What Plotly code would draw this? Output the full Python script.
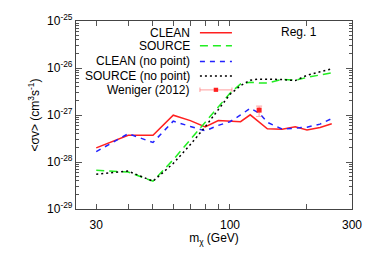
import plotly.graph_objects as go

mass = [30, 40, 50, 60, 70, 80, 90, 100, 110, 120, 130, 140, 160, 180, 200, 225, 250]
clean = [2.0e-28, 3.7e-28, 3.7e-28, 9.9e-28, 7.6e-28, 5.6e-28, 7.6e-28, 7.3e-28, 7.2e-28,
         1.01e-27, 7.2e-28, 5.1e-28, 5.0e-28, 5.6e-28, 4.8e-28, 5.4e-28, 6.5e-28]
source = [6.7e-29, 6.1e-29, 3.9e-29, 1.12e-28, 3.0e-28, 7.0e-28, 1.48e-27, 2.9e-27, 4.6e-27,
          5.0e-27, 4.8e-27, 4.8e-27, 5.7e-27, 5.5e-27, 6.3e-27, 7.2e-27, 7.9e-27]
clean_np = [1.66e-28, 4.0e-28, 2.6e-28, 7.4e-28, 5.7e-28, 4.6e-28, 6.0e-28, 7.2e-28, 1.0e-27,
            1.39e-27, 1.1e-27, 7.0e-28, 5.0e-28, 5.3e-28, 5.5e-28, 6.4e-28, 8.4e-28]
source_np = [5.5e-29, 6.4e-29, 3.9e-29, 9.3e-29, 2.35e-28, 5.6e-28, 1.3e-27, 2.75e-27, 4.2e-27,
             5.5e-27, 5.8e-27, 5.8e-27, 5.7e-27, 5.4e-27, 7.0e-27, 8.3e-27, 9.6e-27]
weniger_m = [130]
weniger_v = [1.27e-27]
weniger_up = [0.28e-27]
weniger_dn = [0.34e-27]

x_major = [30, 100, 300]
x_major_text = ["30", "100", "300"]
x_minor = [40, 50, 60, 70, 80, 90, 200]
y_major = [1e-29, 1e-28, 1e-27, 1e-26, 1e-25]
y_major_text = ["10<sup>-29</sup>", "10<sup>-28</sup>", "10<sup>-27</sup>", "10<sup>-26</sup>", "10<sup>-25</sup>"]
y_minor = [k * d for d in [1e-29, 1e-28, 1e-27, 1e-26] for k in range(2, 10)]

legend_names = ["CLEAN", "SOURCE", "CLEAN (no point)", "SOURCE (no point)", "Weniger (2012)"]

RED = "#ff2020"
GREEN = "#22ee22"
BLUE = "#2222ff"
BLACK = "#000000"
PINK = "rgba(255,80,80,0.45)"

fig = go.Figure()
fig.add_trace(go.Scatter(x=mass, y=clean, mode="lines", line=dict(color=RED, width=1.5), name=legend_names[0]))
fig.add_trace(go.Scatter(x=mass, y=source, mode="lines", line=dict(color=GREEN, width=1.5, dash="8px,5px"), name=legend_names[1]))
fig.add_trace(go.Scatter(x=mass, y=clean_np, mode="lines", line=dict(color=BLUE, width=1.5, dash="5px,5px"), name=legend_names[2]))
fig.add_trace(go.Scatter(x=mass, y=source_np, mode="lines", line=dict(color=BLACK, width=1.5, dash="2px,3px"), name=legend_names[3]))
fig.add_trace(go.Scatter(x=weniger_m, y=weniger_v, mode="markers",
                         marker=dict(symbol="square", size=5, color=RED),
                         error_y=dict(type="data", array=weniger_up, arrayminus=weniger_dn,
                                      color=PINK, thickness=1.2, width=3),
                         name=legend_names[4]))

# Manual legend (text right-aligned, sample to the right)
row_y = [0.937, 0.868, 0.785, 0.708, 0.634]
sx0, sx1, tx = 0.449, 0.565, 0.419
styles = [(RED, "solid"), (GREEN, "8px,5px"), (BLUE, "5px,5px"), (BLACK, "2px,3px")]
shapes = []
annotations = []
for i, name in enumerate(legend_names):
    annotations.append(dict(x=tx, y=row_y[i], xref="paper", yref="paper", text=name,
                            showarrow=False, xanchor="right", yanchor="middle",
                            font=dict(size=12, color="black")))
for i, (c, d) in enumerate(styles):
    shapes.append(dict(type="line", xref="paper", yref="paper", x0=sx0, x1=sx1,
                       y0=row_y[i], y1=row_y[i], line=dict(color=c, width=1.5, dash=d)))
yw = row_y[4]
shapes.append(dict(type="line", xref="paper", yref="paper", x0=sx0, x1=sx1, y0=yw, y1=yw,
                   line=dict(color=PINK, width=1.2)))
for xx in (sx0, sx1):
    shapes.append(dict(type="line", xref="paper", yref="paper", x0=xx, x1=xx, y0=yw - 0.012, y1=yw + 0.012,
                       line=dict(color=PINK, width=1.2)))
xm = (sx0 + sx1) / 2
shapes.append(dict(type="rect", xref="paper", yref="paper", x0=xm - 0.008, x1=xm + 0.008,
                   y0=yw - 0.011, y1=yw + 0.011, fillcolor=RED, line=dict(width=0)))
annotations.append(dict(x=0.809, y=0.943, xref="paper", yref="paper", text="Reg. 1",
                        showarrow=False, xanchor="center", yanchor="middle",
                        font=dict(size=12, color="black")))

fig.update_layout(
    width=374, height=262,
    margin=dict(l=76, r=18, t=15, b=53),
    paper_bgcolor="white", plot_bgcolor="white",
    showlegend=False,
    font=dict(family="Liberation Sans, Arial, sans-serif", size=12, color="black"),
    shapes=shapes, annotations=annotations,
    xaxis=dict(type="log", range=[1.39794, 2.47712],
               tickmode="array", tickvals=x_major, ticktext=x_major_text,
               ticks="inside", ticklen=5, tickcolor="#555", tickwidth=1,
               ticklabelstandoff=4,
               minor=dict(tickmode="array", tickvals=x_minor, ticks="inside", ticklen=5,
                          tickcolor="#555", tickwidth=1, showgrid=False),
               showline=True, linecolor="#444", linewidth=1.2, mirror="ticks",
               showgrid=False, zeroline=False,
               title=dict(text="m<sub>χ</sub> (GeV)", font=dict(size=12), standoff=1),
               tickfont=dict(size=12)),
    yaxis=dict(type="log", range=[-29, -25],
               tickmode="array", tickvals=y_major, ticktext=y_major_text,
               ticks="inside", ticklen=6, tickcolor="#555", tickwidth=1,
               minor=dict(tickmode="array", tickvals=y_minor, ticks="inside", ticklen=3,
                          tickcolor="#555", tickwidth=1, showgrid=False),
               showline=True, linecolor="#444", linewidth=1.2, mirror="ticks",
               showgrid=False, zeroline=False,
               title=dict(text="<σv> (cm<sup>3</sup>s<sup>-1</sup>)", font=dict(size=12), standoff=4),
               tickfont=dict(size=12)),
)

fig.write_html("out.html", config={"displayModeBar": False},
               post_script="document.body.style.margin='0px';document.body.style.overflow='hidden';")
